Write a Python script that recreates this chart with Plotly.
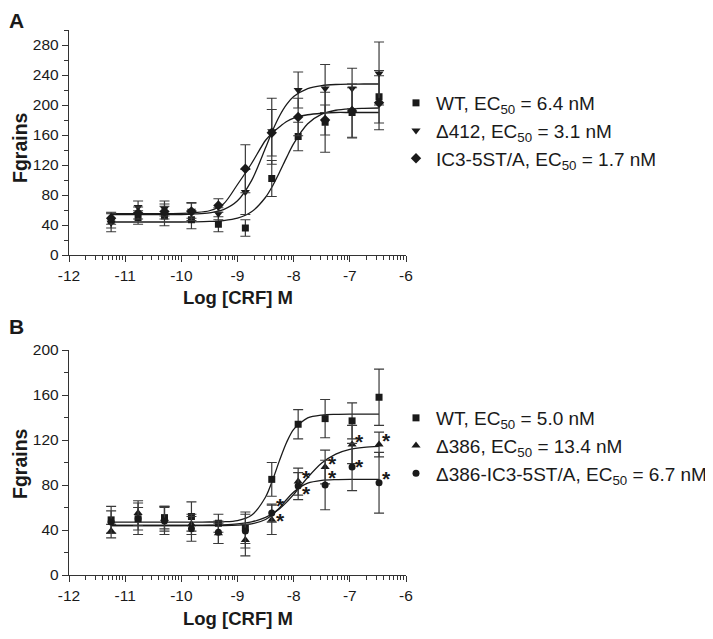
import numpy as np
import plotly.graph_objects as go

# ---------------- data ----------------
LOG_CRF = [-11.25, -10.77, -10.3, -9.82, -9.34, -8.86, -8.39, -7.92, -7.44, -6.96, -6.48]

# Panel A
A_WT = [46, 50, 52, 47, 41, 36, 102, 158, 177, 190, 211]
A_WT_ERR = [10, 9, 13, 12, 10, 11, 24, 19, 40, 33, 35]
A_D412 = [43, 64, 62, 59, 55, 84, 165, 220, 222, 222, 242]
A_D412_ERR = [12, 8, 10, 10, 8, 30, 44, 24, 32, 27, 42]
A_IC3 = [49, 56, 58, 58, 66, 115, 163, 184, 180, 192, 203]
A_IC3_ERR = [8, 8, 10, 12, 9, 32, 31, 25, 20, 36, 36]

# Panel B
B_WT = [49, 50, 51, 52, 46, 42, 85, 134, 139, 137, 158]
B_WT_ERR = [12, 10, 10, 13, 8, 14, 15, 13, 17, 16, 25]
B_D386 = [39, 55, 50, 45, 37, 31, 49, 83, 96, 116, 116]
B_D386_ERR = [6, 11, 11, 9, 9, 14, 13, 12, 15, 17, 11]
B_D386IC3 = [47, 50, 48, 41, 38, 39, 55, 79, 80, 96, 82]
B_D386IC3_ERR = [10, 14, 12, 11, 10, 15, 8, 12, 22, 21, 27]

# fitted curves
FIT_X = [-11.25, -10.0, -9.75, -9.5, -9.25, -9.0, -8.75, -8.5, -8.375, -8.25,
         -8.125, -8.0, -7.75, -7.5, -7.25, -7.0, -6.75, -6.48]
A_WT_FIT = [44, 44, 44.2, 44.7, 45.9, 49.1, 57.6, 77, 92.2, 110.6, 130.2, 148.5,
            174.9, 187.8, 193, 194.9, 195.6, 196]
A_D412_FIT = [54, 54, 54.8, 56.3, 60.6, 72.3, 99.1, 142.9, 166, 185.7, 200.8, 211.2,
              221.9, 225.9, 227.3, 227.8, 228, 228]
A_IC3_FIT = [55, 55.5, 56.5, 59, 68, 94, 122, 153, 163, 171, 178, 182.5,
             187, 189, 190, 190, 190, 190]
B_WT_FIT = [47, 47, 47, 47.1, 47.3, 48.4, 53.1, 69.3, 84.4, 102.1, 118, 129.4,
            139.6, 142.2, 142.8, 143, 143, 143]
B_D386_FIT = [44, 44, 44.1, 44.3, 44.6, 45.4, 47.2, 51.2, 54.6, 59, 64.8, 71.7,
              86.7, 99.5, 107.5, 111.7, 113.5, 114.4]
B_D386IC3_FIT = [44, 44, 44, 44, 44, 44.3, 45.4, 49.3, 53.7, 59.9, 67.1, 73.8,
                 81.6, 84.1, 84.8, 85, 85, 85]

# significance asterisks in panel B
STAR_X = [-8.23, -8.23, -7.77, -7.77, -7.30, -7.30, -6.82, -6.82, -6.34, -6.34]
STAR_Y = [65, 52, 90, 76, 103, 90, 122, 100, 123, 89]

A_NAMES = ["WT, EC<sub>50</sub> = 6.4 nM", "\u0394412, EC<sub>50</sub> = 3.1 nM",
           "IC3-5ST/A, EC<sub>50</sub> = 1.7 nM"]
B_NAMES = ["WT, EC<sub>50</sub> = 5.0 nM", "\u0394386, EC<sub>50</sub> = 13.4 nM",
           "\u0394386-IC3-5ST/A, EC<sub>50</sub> = 6.7 nM"]

X_TICKS = [-12, -11, -10, -9, -8, -7, -6]

# ---------------- figure ----------------
INK = "#1a1a1a"
ERRC = "#3a3a3a"
FONT = "Liberation Sans, Arial, sans-serif"

fig = go.Figure()

def add_curve(xa, ya, ys):
    fig.add_trace(go.Scatter(x=FIT_X, y=ys, mode="lines", xaxis=xa, yaxis=ya,
                             line=dict(color=INK, width=1.3, shape="spline", smoothing=0.8),
                             showlegend=False, hoverinfo="skip"))

def add_points(xa, ya, ys, err, symbol, size, name, legend):
    fig.add_trace(go.Scatter(x=LOG_CRF, y=ys, mode="markers", xaxis=xa, yaxis=ya,
                             name=name, legend=legend,
                             marker=dict(symbol=symbol, size=size, color=INK,
                                         line=dict(width=0)),
                             error_y=dict(type="data", array=err, visible=True,
                                          color=ERRC, thickness=1.2, width=5)))

for ys in (A_WT_FIT, A_D412_FIT, A_IC3_FIT):
    add_curve("x", "y", ys)
for ys in (B_WT_FIT, B_D386_FIT, B_D386IC3_FIT):
    add_curve("x2", "y2", ys)

add_points("x", "y", A_WT, A_WT_ERR, "square", 7, A_NAMES[0], "legend")
add_points("x", "y", A_D412, A_D412_ERR, "triangle-down", 8, A_NAMES[1], "legend")
add_points("x", "y", A_IC3, A_IC3_ERR, "diamond", 8, A_NAMES[2], "legend")

add_points("x2", "y2", B_WT, B_WT_ERR, "square", 7, B_NAMES[0], "legend2")
add_points("x2", "y2", B_D386, B_D386_ERR, "triangle-up", 8, B_NAMES[1], "legend2")
add_points("x2", "y2", B_D386IC3, B_D386IC3_ERR, "circle", 7, B_NAMES[2], "legend2")

# invisible anchors for the minor-tick overlay axes
for xa, ya in (("x3", "y"), ("x4", "y2")):
    fig.add_trace(go.Scatter(x=[-12], y=[0], xaxis=xa, yaxis=ya, mode="markers",
                             marker=dict(opacity=0), showlegend=False, hoverinfo="skip"))

# asterisks
for sx, sy in zip(STAR_X, STAR_Y):
    fig.add_annotation(x=sx, y=sy, xref="x2", yref="y2", text="<b>*</b>",
                       showarrow=False, font=dict(family=FONT, size=21, color=INK),
                       xanchor="center", yanchor="middle", yshift=-4)

# the page body has an 8px margin: work in screen pixels and convert
OFF = 8
W, H = 705, 631
def px_x(p):
    return (p - OFF) / W
def px_y(p):
    return 1 - (p - OFF) / H

XDOM = [px_x(69), px_x(406)]
minor_x = [round(d + np.log10(k), 4) for d in range(-12, -6) for k in range(2, 10)]

xaxis_common = dict(range=[-12, -6], tickmode="array", tickvals=X_TICKS,
                    ticktext=[str(v) for v in X_TICKS],
                    ticks="outside", ticklen=6, tickwidth=1.2, tickcolor="#333",
                    showline=True, linecolor="#333", linewidth=1.4,
                    showgrid=False, zeroline=False,
                    tickfont=dict(family=FONT, size=15.5, color=INK),
                    domain=XDOM, automargin=False)

minor_axis = dict(range=[-12, -6], tickmode="array", tickvals=minor_x,
                  ticks="outside", ticklen=3.5, tickwidth=1, tickcolor="#333",
                  showticklabels=False, showline=False, showgrid=False,
                  zeroline=False, domain=XDOM, automargin=False)

yaxis_common = dict(ticks="outside", ticklen=6, tickwidth=1.2, tickcolor="#333",
                    showline=True, linecolor="#333", linewidth=1.4,
                    showgrid=False, zeroline=False, tick0=0, dtick=40,
                    tickfont=dict(family=FONT, size=15.5, color=INK),
                    automargin=False,
                    minor=dict(dtick=20, ticks="outside", ticklen=3.5, tickwidth=1,
                               tickcolor="#333"))

fig.update_layout(
    width=W, height=H,
    margin=dict(l=0, r=0, t=0, b=0, autoexpand=False),
    paper_bgcolor="white", plot_bgcolor="white",
    font=dict(family=FONT, color=INK),
    xaxis=dict(**xaxis_common, anchor="y"),
    yaxis=dict(**yaxis_common, range=[0, 300], anchor="x",
               domain=[px_y(255), px_y(30)]),
    xaxis2=dict(**xaxis_common, anchor="y2"),
    yaxis2=dict(**yaxis_common, range=[0, 200], anchor="x2",
                domain=[px_y(575), px_y(350)]),
    xaxis3=dict(**minor_axis, overlaying="x", anchor="y"),
    xaxis4=dict(**minor_axis, overlaying="x2", anchor="y2"),
    legend=dict(x=px_x(396), y=px_y(84), xanchor="left", yanchor="top",
                font=dict(family=FONT, size=19, color=INK), bgcolor="rgba(0,0,0,0)",
                itemsizing="trace", tracegroupgap=0),
    legend2=dict(x=px_x(396), y=px_y(399), xanchor="left", yanchor="top",
                 font=dict(family=FONT, size=19, color=INK), bgcolor="rgba(0,0,0,0)",
                 itemsizing="trace", tracegroupgap=0),
    showlegend=True,
)

# panel letters (anchored by their top edge so they stay inside the page)
for letter, ytop in (("A", 8), ("B", 314)):
    fig.add_annotation(text="<b>%s</b>" % letter, x=px_x(16), y=px_y(ytop),
                       xref="paper", yref="paper", showarrow=False,
                       xanchor="center", yanchor="top", borderpad=0,
                       font=dict(family=FONT, size=21, color=INK))

# axis titles
for yc in (297, 618):
    fig.add_annotation(text="<b>Log [CRF] M</b>", x=px_x(238), y=px_y(yc),
                       xref="paper", yref="paper", showarrow=False,
                       xanchor="center", yanchor="middle",
                       font=dict(family=FONT, size=18.5, color=INK))
for yc in (148, 464):
    fig.add_annotation(text="<b>Fgrains</b>", x=px_x(20), y=px_y(yc), xref="paper",
                       yref="paper", showarrow=False, textangle=-90,
                       xanchor="center", yanchor="middle",
                       font=dict(family=FONT, size=19.5, color=INK))

fig.write_html("out.html")
